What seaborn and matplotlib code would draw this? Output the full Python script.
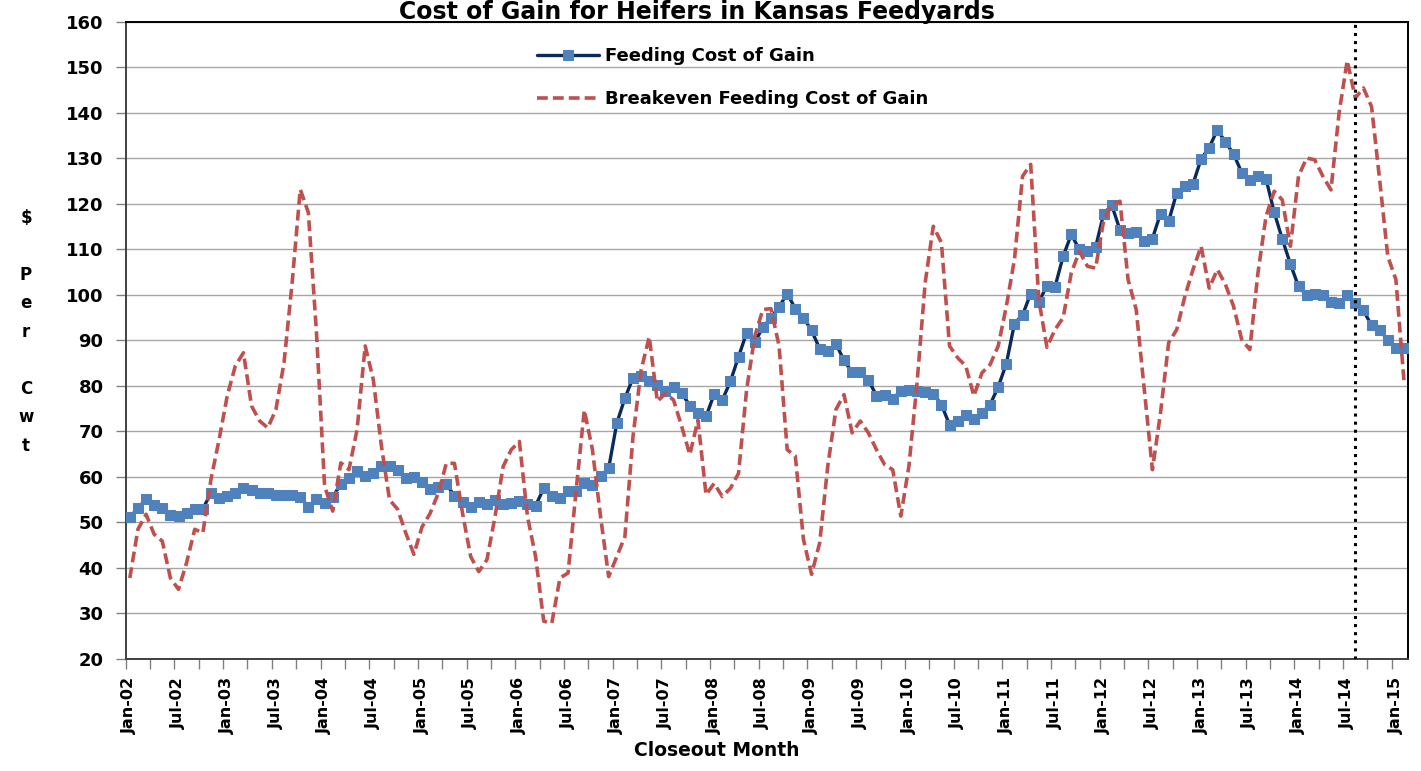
import numpy as np
import pandas as pd
import seaborn as sns
import matplotlib.pyplot as plt

# closeout months, Jan-02 through Feb-15
months = pd.date_range("2002-01-01", periods=158, freq="MS")
month_labels = list(months.strftime("%b-%y"))

# $ per cwt
feeding_cog = [
    51.2, 53.1, 55.2, 53.9, 53.1, 51.7, 51.4, 52.1, 53.0, 53.0,
    56.5, 55.4, 55.8, 56.5, 57.6, 57.1, 56.5, 56.5, 56.0, 56.0,
    56.0, 55.6, 53.4, 55.1, 54.3, 55.6, 58.5, 59.8, 61.3, 60.2,
    60.9, 62.4, 62.5, 61.5, 59.8, 60.0, 58.9, 57.4, 57.9, 58.4,
    55.9, 54.5, 53.5, 54.5, 54.1, 55.0, 54.1, 54.2, 54.8, 54.1,
    53.7, 57.5, 55.9, 55.3, 57.0, 57.0, 58.6, 58.3, 60.2, 61.9,
    71.8, 77.3, 81.8, 82.1, 81.0, 80.2, 79.0, 79.7, 78.4, 75.7,
    74.0, 73.3, 78.2, 76.9, 81.0, 86.4, 91.7, 89.6, 92.9, 95.0,
    97.4, 100.3, 97.0, 95.0, 92.2, 88.2, 87.7, 89.3, 85.6, 83.0,
    83.0, 81.3, 77.9, 78.1, 77.2, 78.9, 79.1, 78.9, 78.7, 78.3,
    75.9, 71.5, 72.4, 73.6, 72.8, 74.1, 75.9, 79.8, 84.9, 93.7,
    95.6, 100.3, 98.5, 102.0, 101.8, 108.5, 113.3, 110.0, 109.6, 110.5,
    117.9, 119.7, 114.3, 113.6, 113.8, 111.8, 112.4, 117.9, 116.2, 122.5,
    124.0, 124.4, 129.9, 132.4, 136.3, 133.6, 131.0, 126.9, 125.3, 126.1,
    125.5, 118.2, 112.3, 106.8, 101.9, 99.9, 100.2, 99.9, 98.5, 98.2,
    99.9, 98.2, 96.6, 93.3, 92.2, 90.2, 88.4, 88.4,
]

breakeven_cog = [
    37.8, 48.5, 51.8, 47.4, 45.9, 37.8, 35.3, 41.2, 48.5, 47.7,
    59.5, 68.2, 77.8, 84.4, 87.3, 75.6, 72.3, 70.8, 74.8, 85.1,
    102.7, 123.2, 118.1, 91.7, 58.0, 52.5, 63.1, 61.6, 70.4, 88.8,
    81.4, 66.8, 55.0, 52.9, 47.7, 43.0, 49.0, 52.0, 56.4, 63.0,
    63.0, 52.0, 42.5, 39.2, 41.8, 51.3, 62.3, 66.0, 67.8, 51.3,
    42.5, 28.3, 27.9, 37.8, 38.9, 57.2, 74.7, 66.0, 51.3, 38.1,
    42.5, 46.9, 68.9, 83.5, 90.8, 76.6, 78.4, 76.9, 71.1, 64.9,
    72.5, 56.1, 58.6, 55.7, 57.5, 60.8, 79.2, 90.9, 96.8, 97.0,
    88.8, 66.0, 64.6, 46.3, 38.6, 45.5, 62.4, 74.8, 78.1, 69.7,
    72.3, 69.7, 66.0, 62.7, 61.6, 51.4, 62.4, 80.7, 102.7, 115.1,
    111.5, 88.8, 86.2, 84.4, 77.8, 82.9, 84.7, 88.8, 97.5, 107.8,
    126.1, 128.7, 99.0, 88.5, 92.4, 95.0, 104.8, 109.6, 106.3, 105.9,
    116.5, 119.8, 120.6, 103.4, 96.8, 79.2, 61.6, 74.1, 89.5, 92.4,
    99.7, 105.6, 110.7, 101.5, 105.6, 102.3, 97.5, 90.2, 88.0, 104.8,
    117.3, 122.8, 120.9, 110.7, 126.1, 130.1, 129.7, 126.1, 123.1, 140.0,
    151.5, 143.3, 145.5, 141.4, 125.3, 108.5, 103.4, 81.0,
]

divider_month = "Aug-14"  # dotted line
y_ticks = list(range(20, 161, 10))

df = pd.DataFrame({
    "pos": np.arange(len(months)),
    "month": month_labels,
    "feeding": feeding_cog,
    "breakeven": breakeven_cog,
})

sns.set_style("white")
plt.rcParams['font.family'] = ['DejaVu Sans']
plt.rcParams['font.weight'] = 'bold'
plt.rcParams['text.color'] = 'black'

fig = plt.figure(figsize=(14.21, 7.71), dpi=100)
ax = fig.add_axes([0.0885, 0.1453, 0.9024, 0.8262])

sns.lineplot(data=df, x="pos", y="feeding", ax=ax, color="#0b2a5c", lw=2.4,
             marker="s", markersize=7.5, markerfacecolor="#4f81bd",
             markeredgecolor="#4f81bd", label="Feeding Cost of Gain", zorder=3)
sns.lineplot(data=df, x="pos", y="breakeven", ax=ax, color="#c0504d", lw=2.6,
             linestyle=(0, (3, 1.4)), label="Breakeven Feeding Cost of Gain",
             zorder=4)

ax.axvline(df.index[df["month"] == divider_month][0], color="black",
           linestyle=":", lw=2.2, zorder=5)

ax.set_xlim(-0.5, len(df) - 0.5)
ax.set_ylim(20, 160)

# labels every 6 months at category centres, tick marks every 3 months at boundaries
ax.set_xticks(df["pos"][::6])
ax.set_xticklabels(df["month"][::6], rotation=90, fontsize=11.5, fontweight="bold")
ax.set_xticks(np.arange(-0.5, len(df), 3), minor=True)
ax.tick_params(axis="x", which="major", length=0, pad=13, labelcolor="black")
ax.tick_params(axis="x", which="minor", length=7, width=1, color="#808080", bottom=True)

ax.set_yticks(y_ticks)
ax.tick_params(axis="y", length=7, width=1, color="#808080", labelsize=13, pad=9,
               left=True, labelcolor="black")
for t in ax.get_yticklabels():
    t.set_fontweight("bold")

ax.grid(axis="y", color="#a6a6a6", lw=1)
ax.grid(axis="x", visible=False)
for side in ["left", "bottom", "top", "right"]:
    ax.spines[side].set_color("black")
    ax.spines[side].set_linewidth(1.4)
ax.spines["left"].set_color("#404040")
ax.spines["bottom"].set_color("#404040")

ax.set_xlabel("")
ax.set_ylabel("")

ax.legend(loc="upper left", bbox_to_anchor=(0.321, 0.96), frameon=False,
          fontsize=13, handlelength=3.4, handletextpad=0.35, labelspacing=1.35,
          numpoints=1, borderpad=0, borderaxespad=0)

fig.text(0.4905, 1 - 0.5 / 771, "Cost of Gain for Heifers in Kansas Feedyards",
         ha="center", va="top", fontsize=17, fontweight="bold")
fig.text(717 / 1421, 1 - 751 / 771, "Closeout Month", ha="center", va="center",
         fontsize=13.5, fontweight="bold")
fig.text(26 / 1421, 1 - 332 / 771, "$\n\nP\ne\nr\n\nC\nw\nt", ha="center",
         va="center", fontsize=12, fontweight="bold", linespacing=1.75)

fig.savefig("out.png", dpi=100)
